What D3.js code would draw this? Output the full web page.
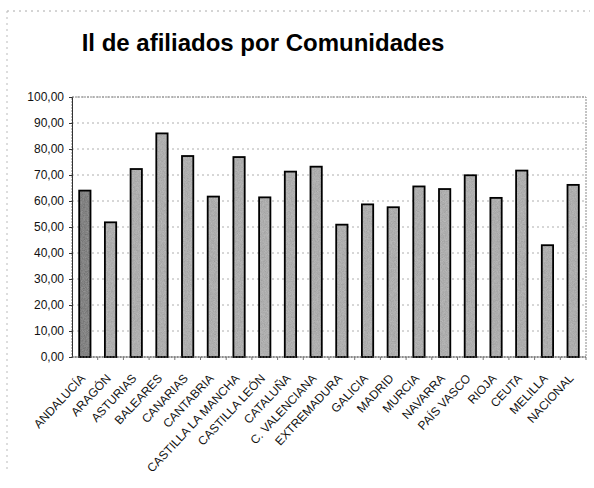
<!DOCTYPE html>
<html>
<head>
<meta charset="utf-8">
<script src="https://cdn.jsdelivr.net/npm/d3@7"></script>
<style>
  body { margin: 0; background: #fff; }
  svg { font-family: "Liberation Sans", Arial, sans-serif; }
</style>
</head>
<body>
<div id="chart"></div>
<script>
// Data
const regions = ["ANDALUCÍA", "ARAGÓN", "ASTURIAS", "BALEARES", "CANARIAS", "CANTABRIA",
  "CASTILLA LA MANCHA", "CASTILLA LEÓN", "CATALUÑA", "C. VALENCIANA", "EXTREMADURA",
  "GALICIA", "MADRID", "MURCIA", "NAVARRA", "PAÍS VASCO", "RIOJA", "CEUTA", "MELILLA", "NACIONAL"];
const values = [64.0, 51.8, 72.3, 86.0, 77.3, 61.7, 76.9, 61.4, 71.3, 73.2, 50.9,
  58.7, 57.6, 65.6, 64.6, 69.9, 61.2, 71.7, 43.0, 66.2];
const yTicks = [0, 10, 20, 30, 40, 50, 60, 70, 80, 90, 100];

const W = 594, H = 488;
const plot = { left: 72, right: 586, top: 97, bottom: 357 };

const svg = d3.select("#chart")
    .append("svg")
    .attr("width", W)
    .attr("height", H);

// speckled texture for the bar fills
const defs = svg.append("defs");
const filt = defs.append("filter").attr("id", "grain");
filt.append("feTurbulence").attr("type", "fractalNoise").attr("baseFrequency", 1.3)
    .attr("numOctaves", 1).attr("seed", 3).attr("result", "n");
filt.append("feColorMatrix").attr("in", "n").attr("type", "saturate").attr("values", 0).attr("result", "g");
filt.append("feComponentTransfer").attr("in", "g").attr("result", "g2")
    .append("feFuncA").attr("type", "linear").attr("slope", 0).attr("intercept", 0.3);
filt.append("feComposite").attr("in", "g2").attr("in2", "SourceGraphic").attr("operator", "in").attr("result", "t");
const merge = filt.append("feMerge");
merge.append("feMergeNode").attr("in", "SourceGraphic");
merge.append("feMergeNode").attr("in", "t");

// page frame (dotted, top and left)
svg.append("line").attr("x1", 7).attr("x2", 590).attr("y1", 11).attr("y2", 11)
    .attr("stroke", "#aaa").attr("stroke-dasharray", "2,4");
svg.append("line").attr("x1", 7).attr("x2", 7).attr("y1", 11).attr("y2", 470)
    .attr("stroke", "#bbb").attr("stroke-dasharray", "2,4");

// Title
svg.append("text")
    .attr("x", 263)
    .attr("y", 51)
    .attr("text-anchor", "middle")
    .style("font-size", "24px")
    .style("font-weight", "bold")
    .text("Il de afiliados por Comunidades");

const x = d3.scaleBand()
    .domain(regions)
    .range([plot.left, plot.right])
    .paddingInner(0.56)
    .paddingOuter(0.28);

const y = d3.scaleLinear()
    .domain([0, 100])
    .range([plot.bottom, plot.top]);

// gridlines
svg.append("g")
    .selectAll("line")
    .data(yTicks.slice(1))
    .enter()
    .append("line")
    .attr("x1", plot.left).attr("x2", plot.right)
    .attr("y1", d => y(d)).attr("y2", d => y(d))
    .attr("stroke", "#999")
    .attr("stroke-width", 0.8)
    .attr("stroke-dasharray", "2,3");

// plot border
svg.append("rect")
    .attr("x", plot.left).attr("y", plot.top)
    .attr("width", plot.right - plot.left).attr("height", plot.bottom - plot.top)
    .attr("fill", "none")
    .attr("stroke", "#888")
    .attr("stroke-dasharray", "2,1");

// bars: textured fill, then black outline
const bars = svg.append("g");
bars.selectAll("rect.fill")
    .data(regions)
    .enter()
    .append("rect")
    .attr("class", "fill")
    .attr("x", d => x(d))
    .attr("y", (d, i) => y(values[i]))
    .attr("width", x.bandwidth())
    .attr("height", (d, i) => y(0) - y(values[i]))
    .attr("fill", (d, i) => i === 0 ? "#5e5e5e" : "#a8a8a8")
    .attr("filter", "url(#grain)");
bars.selectAll("rect.edge")
    .data(regions)
    .enter()
    .append("rect")
    .attr("class", "edge")
    .attr("x", d => x(d))
    .attr("y", (d, i) => y(values[i]))
    .attr("width", x.bandwidth())
    .attr("height", (d, i) => y(0) - y(values[i]))
    .attr("fill", "none")
    .attr("stroke", "#000")
    .attr("stroke-width", 1.8);

// y axis
const yAxis = svg.append("g")
    .attr("transform", `translate(${plot.left},0)`)
    .call(d3.axisLeft(y).tickValues(yTicks).tickSize(3)
        .tickFormat(d => d3.format(".2f")(d).replace(".", ",")));
yAxis.select(".domain").attr("stroke", "#333");
yAxis.selectAll("line").attr("stroke", "#333");
yAxis.selectAll("text").attr("fill", "#111").style("font-size", "12px").attr("x", -8);

// x axis
const xAxis = svg.append("g")
    .attr("transform", `translate(0,${plot.bottom})`)
    .call(d3.axisBottom(x).tickSize(3));
xAxis.select(".domain").attr("stroke", "#555").attr("stroke-dasharray", "2,1")
    .attr("d", `M${plot.left},0H${plot.right}`);
xAxis.selectAll("line").attr("stroke", "#777")
    .attr("transform", d => `translate(${x.step() / 2},0)`);
xAxis.selectAll("text")
    .attr("fill", "#111")
    .style("font-size", "12px")
    .style("text-anchor", "end")
    .attr("x", 0).attr("y", 0)
    .attr("dy", "0.35em")
    .attr("transform", "translate(-2,19) rotate(-47)");
</script>
</body>
</html>
